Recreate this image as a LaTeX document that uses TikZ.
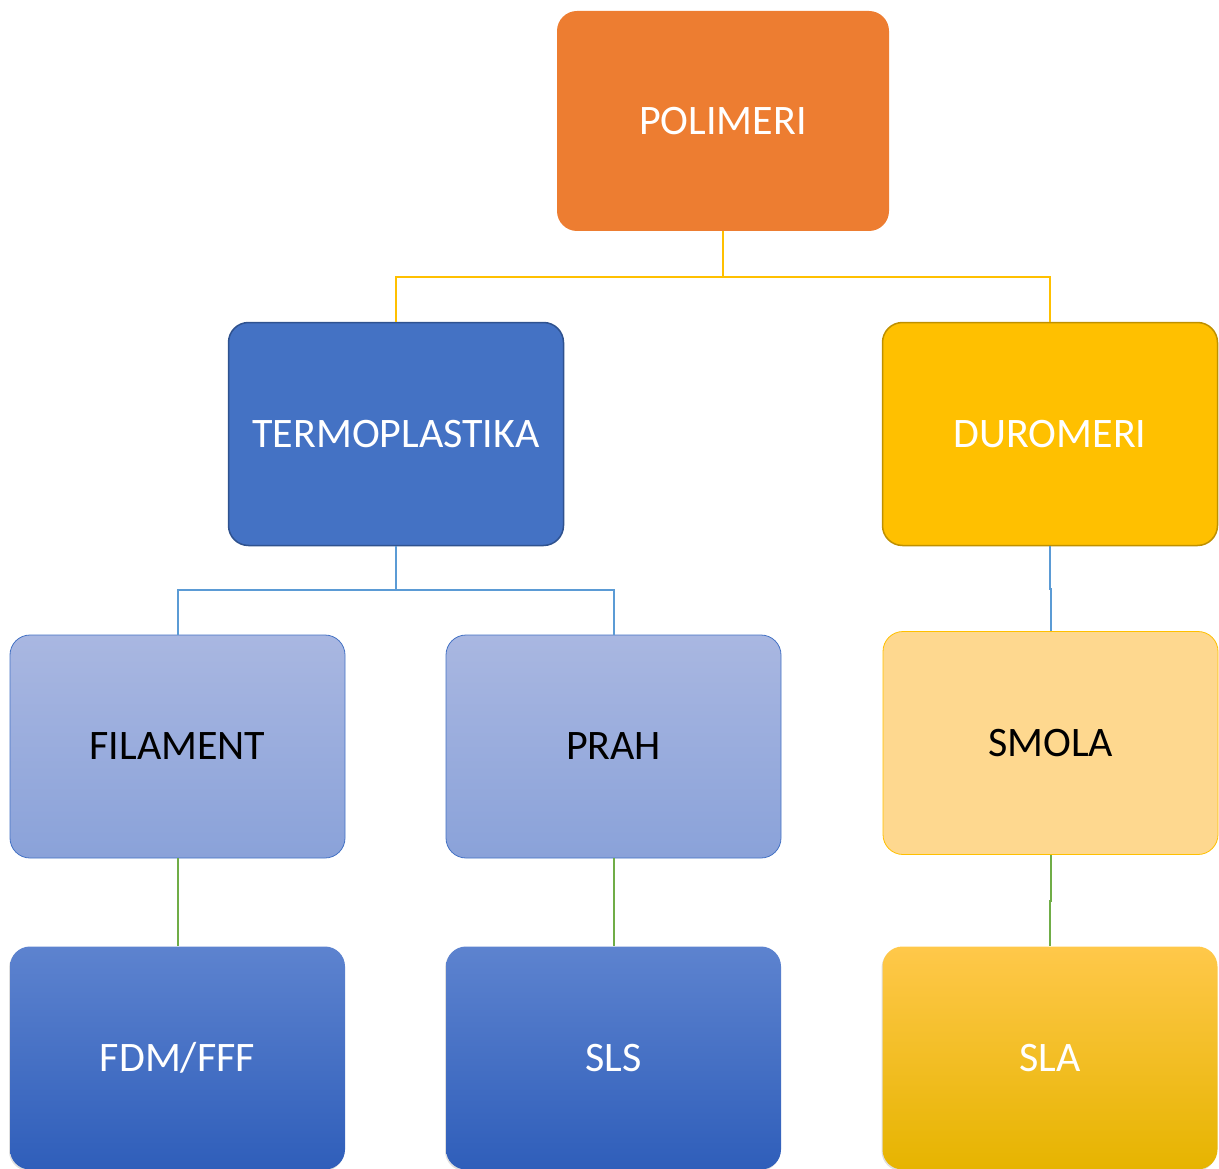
\documentclass[tikz,border=0pt]{standalone}
\usepackage{fontspec}
\setmainfont{Carlito}
\usetikzlibrary{calc,shadows}
\definecolor{orng}{HTML}{ED7D31}
\definecolor{blu}{HTML}{4472C4}
\definecolor{bluedge}{HTML}{2F528F}
\definecolor{yel}{HTML}{FFC000}
\definecolor{yeledge}{HTML}{BF9000}
\definecolor{ltbluetop}{HTML}{A9B7E1}
\definecolor{ltbluebot}{HTML}{8AA2D9}
\definecolor{ltyel}{HTML}{FED88F}
\definecolor{dkbluetop}{HTML}{5D83CF}
\definecolor{dkbluebot}{HTML}{2F5EBA}
\definecolor{yeltop}{HTML}{FFC84A}
\definecolor{yelbot}{HTML}{E6B400}
\definecolor{lineblue}{HTML}{5B9BD5}
\definecolor{linegreen}{HTML}{70AD47}
\tikzset{
  x=1pt, y=-1pt,
  box/.style={rounded corners=20pt, minimum width=335pt, minimum height=223pt,
    font=\fontsize{42}{50}\selectfont, inner sep=0pt, align=center},
  toporange/.style={box, fill=orng, text=white, minimum width=332pt, minimum height=220pt},
  midblue/.style={box, fill=blu, draw=bluedge, line width=1.5pt, text=white},
  midyellow/.style={box, fill=yel, draw=yeledge, line width=1.5pt, text=white},
  lightblue/.style={box, top color=ltbluetop, bottom color=ltbluebot, draw=blu, line width=0.8pt, text=black},
  lightyellow/.style={box, fill=ltyel, draw=yel, line width=0.8pt, text=black},
  darkblue/.style={box, top color=dkbluetop, bottom color=dkbluebot, text=white,
    drop shadow={shadow xshift=-1pt, shadow yshift=-1.5pt, opacity=0.25}},
  darkyellow/.style={box, top color=yeltop, middle color=yel, bottom color=yelbot, text=white,
    drop shadow={shadow xshift=-1pt, shadow yshift=-1.5pt, opacity=0.25}},
  conn/.style={line width=2pt},
}
\begin{document}
\begin{tikzpicture}
\useasboundingbox (0,0) rectangle (1219,1169);
\node[toporange] (pol) at (723,121) {POLIMERI};
\node[midblue] (term) at (396,434) {TERMOPLASTIKA};
\node[midyellow] (dur) at (1050,434) {DUROMERI};
\node[lightblue] (fil) at (177.5,746.5) {FILAMENT};
\node[lightblue] (prah) at (613.5,746.5) {PRAH};
\node[lightyellow] (smola) at (1050.5,743) {SMOLA};
\node[darkblue] (fdm) at (177.5,1058) {FDM/FFF};
\node[darkblue] (sls) at (613.5,1058) {SLS};
\node[darkyellow] (sla) at (1050,1058) {SLA};
% connectors
\coordinate (polbus) at (723,277);
\draw[conn, yel] (pol.south) -- (polbus) -| (term.north);
\draw[conn, yel] (polbus) -| (dur.north);
\coordinate (termbus) at (396,590);
\draw[conn, lineblue] (term.south) -- (termbus) -| (fil.north);
\draw[conn, lineblue] (termbus) -| (prah.north);
\draw[conn, lineblue] (dur.south) |- ($(dur.south)!0.5!(smola.north)$) -| (smola.north);
\draw[conn, linegreen] (fil.south) -- (fdm.north);
\draw[conn, linegreen] (prah.south) -- (sls.north);
\draw[conn, linegreen] (smola.south) |- ($(smola.south)!0.5!(sla.north)$) -| (sla.north);
\end{tikzpicture}
\end{document}
